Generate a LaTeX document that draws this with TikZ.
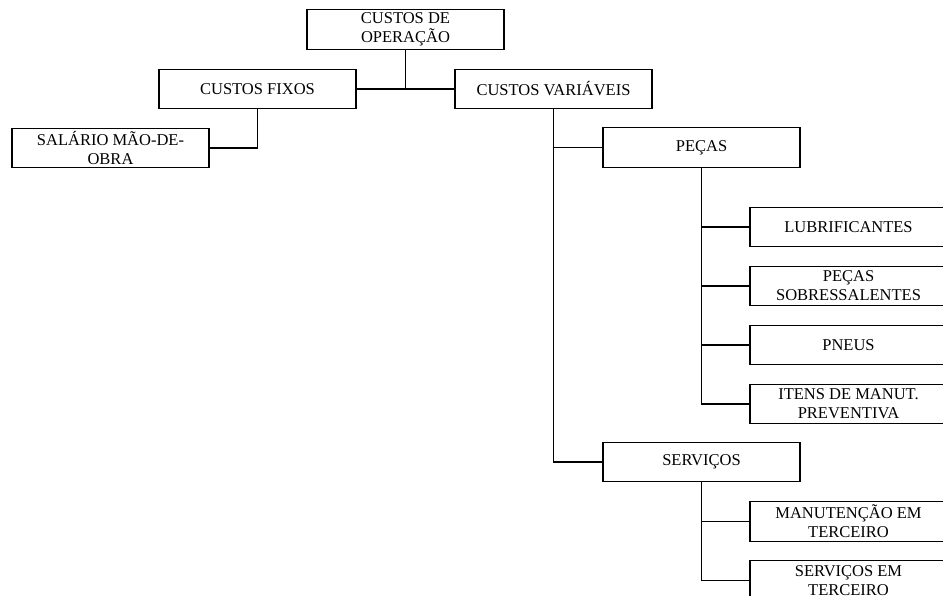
\documentclass[tikz,border=0pt]{standalone}
\usepackage{fontspec}
\setmainfont{Liberation Serif}
\usetikzlibrary{positioning}

\begin{document}
\begin{tikzpicture}[x=1pt, y=1pt, node distance={59pt}, on grid,
		box/.style = {draw, line width=1.1pt, minimum width=197pt, minimum height=39.5pt, inner sep=0pt, align=center, font=\fontsize{16.5}{19}\selectfont},
		link/.style = {line width=1.1pt}]
		\clip (0,0) rectangle (943,-595);
		\node[box] (top) at (405.5,-29.5) {CUSTOS DE\\OPERAÇÃO};
		\node[box] (fixos) [below left=59.5pt and 148pt of top] {CUSTOS FIXOS};
		\node[box] (var) [below right=59.5pt and 148pt of top] {CUSTOS VARIÁVEIS};
		\node[box] (salario) [below left=59pt and 147pt of fixos] {SALÁRIO MÃO-DE-\\OBRA};
		\node[box] (pecas) [below right=58.5pt and 148pt of var] {PEÇAS};
		\node[box] (lubr) [below right=79.5pt and 147pt of pecas] {LUBRIFICANTES};
		\node[box] (sobre) [below=of lubr] {PEÇAS\\SOBRESSALENTES};
		\node[box] (pneus) [below=of sobre] {PNEUS};
		\node[box] (itens) [below=of pneus] {ITENS DE MANUT.\\PREVENTIVA};
		\node[box] (servicos) [below left=58pt and 147pt of itens] {SERVIÇOS};
		\node[box] (manut) [below right=59.5pt and 147pt of servicos] {MANUTENÇÃO EM\\TERCEIRO};
		\node[box] (sterc) [below=of manut] {SERVIÇOS EM\\TERCEIRO};
		\draw[link] (top.south) |- (fixos.east);
		\draw[link] (top.south) |- (var.west);
		\draw[link] (fixos.south) |- (salario.east);
		\draw[link] (var.south) |- (pecas.west);
		\draw[link] (var.south) |- (servicos.west);
		\draw[link] (pecas.south) |- (lubr.west);
		\draw[link] (pecas.south) |- (sobre.west);
		\draw[link] (pecas.south) |- (pneus.west);
		\draw[link] (pecas.south) |- (itens.west);
		\draw[link] (servicos.south) |- (manut.west);
		\draw[link] (servicos.south) |- (sterc.west);
	\end{tikzpicture}
\end{document}
